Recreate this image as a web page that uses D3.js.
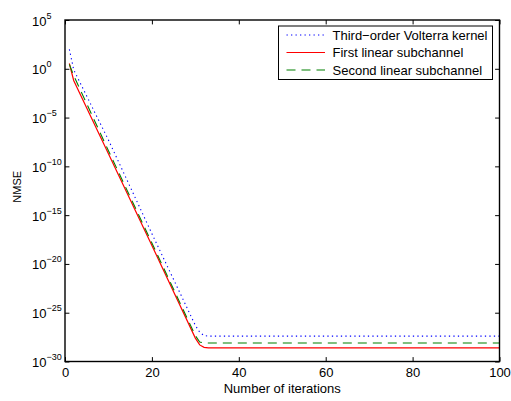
<!DOCTYPE html>
<html>
<head>
<meta charset="utf-8">
<script src="https://cdn.jsdelivr.net/npm/d3@7"></script>
<style>
  body { margin: 0; background: #fff; }
  text { font-family: "Liberation Sans", Arial, Helvetica, sans-serif; fill: #000; }
</style>
</head>
<body>
<div id="chart"></div>
<script>
// NMSE per iteration (key points)
const iterThird = [1, 2, 10, 20, 30, 31, 32, 33, 100];
const nmseThird = [1e2, 7.9e-1, 5.0e-8, 1.26e-17, 5.0e-27, 1.0e-27, 4.5e-28, 4.0e-28, 4.0e-28];

const iterFirst = [1, 2, 10, 20, 30, 31, 32, 33, 100];
const nmseFirst = [3.5, 6.3e-2, 2.0e-9, 7.9e-19, 2.5e-28, 5.0e-29, 2.8e-29, 2.5e-29, 2.5e-29];

const iterSecond = [1, 2, 10, 20, 30, 31, 32, 100];
const nmseSecond = [2.8, 2.0e-1, 4.0e-9, 1.4e-18, 4.5e-28, 1.0e-28, 7.9e-29, 7.9e-29];

const xTicks = [0, 20, 40, 60, 80, 100];
const yTicks = [1e5, 1e0, 1e-5, 1e-10, 1e-15, 1e-20, 1e-25, 1e-30];
const yTickExp = ["5", "0", "\u22125", "\u221210", "\u221215", "\u221220", "\u221225", "\u221230"];
const legendNames = ["Third\u2212order Volterra kernel", "First linear subchannel", "Second linear subchannel"];

const W = 511, H = 401;
const pL = 65, pR = 499.5, pT = 20, pB = 361.5;

const svg = d3.select("#chart").append("svg").attr("width", W).attr("height", H);

const x = d3.scaleLinear().domain([0, 100]).range([pL, pR]);
const y = d3.scaleLog().domain([1e-30, 1e5]).range([pB, pT]);

const series = [
  { it: iterThird, v: nmseThird, color: "#0000ff", dash: "1.3,3.2", width: 1.1 },
  { it: iterFirst, v: nmseFirst, color: "#ff0000", dash: null, width: 1.2 },
  { it: iterSecond, v: nmseSecond, color: "#008000", dash: "9,6", width: 1.1 }
];

const line = d3.line().x(d => x(d[0])).y(d => y(d[1]));

const plot = svg.append("g");
series.forEach(s => {
  const pts = s.it.map((k, i) => [k, s.v[i]]);
  plot.append("path").datum(pts)
    .attr("d", line)
    .attr("fill", "none")
    .attr("stroke", s.color)
    .attr("stroke-width", s.width)
    .attr("stroke-dasharray", s.dash);
});

// axes, ticks pointing inward
const tl = 4.4;
const axes = svg.append("g");
axes.append("g").attr("transform", `translate(0,${pB})`)
  .call(d3.axisBottom(x).tickValues(xTicks).tickSizeInner(-tl).tickSizeOuter(0).tickPadding(6.5));
axes.append("g").attr("transform", `translate(0,${pT})`)
  .call(d3.axisTop(x).tickValues(xTicks).tickSizeInner(-tl).tickSizeOuter(0).tickFormat(""));
axes.append("g").attr("transform", `translate(${pL},0)`)
  .call(d3.axisLeft(y).tickValues(yTicks).tickSizeInner(-tl).tickSizeOuter(0).tickFormat(""));
axes.append("g").attr("transform", `translate(${pR},0)`)
  .call(d3.axisRight(y).tickValues(yTicks).tickSizeInner(-tl).tickSizeOuter(0).tickFormat(""));
axes.selectAll(".domain").remove();
axes.selectAll(".tick line").attr("stroke", "#000").attr("stroke-width", 1);
axes.selectAll(".tick text").attr("font-size", 13).attr("font-family", null).attr("fill", "#000");

svg.append("rect")
  .attr("x", pL).attr("y", pT)
  .attr("width", pR - pL).attr("height", pB - pT)
  .attr("fill", "none").attr("stroke", "#000").attr("stroke-width", 1.4);

// y tick labels 10^n
const yl = svg.append("g");
yTicks.forEach((v, i) => {
  const t = yl.append("text").attr("x", 32).attr("y", y(v) + 5.5).attr("font-size", 13);
  t.append("tspan").text("10");
  t.append("tspan").attr("dy", -7).attr("font-size", 9).text(yTickExp[i]);
});

svg.append("text")
  .attr("x", (pL + pR) / 2).attr("y", 393)
  .attr("text-anchor", "middle").attr("font-size", 13)
  .text("Number of iterations");

svg.append("text")
  .attr("transform", `translate(21,${(pT + pB) / 2 - 4}) rotate(-90)`)
  .attr("text-anchor", "middle").attr("font-size", 11)
  .text("NMSE");

// legend
const lg = svg.append("g");
lg.append("rect")
  .attr("x", 278.5).attr("y", 26).attr("width", 214).attr("height", 53.5)
  .attr("fill", "#fff").attr("stroke", "#000").attr("stroke-width", 1);
legendNames.forEach((name, i) => {
  const ly = 35 + i * 17.5;
  lg.append("line")
    .attr("x1", 286.5).attr("x2", 325).attr("y1", ly).attr("y2", ly)
    .attr("stroke", series[i].color)
    .attr("stroke-width", series[i].width)
    .attr("stroke-dasharray", series[i].dash);
  lg.append("text").attr("x", 332.5).attr("y", ly + 4.5).attr("font-size", 13).text(name);
});
</script>
</body>
</html>
